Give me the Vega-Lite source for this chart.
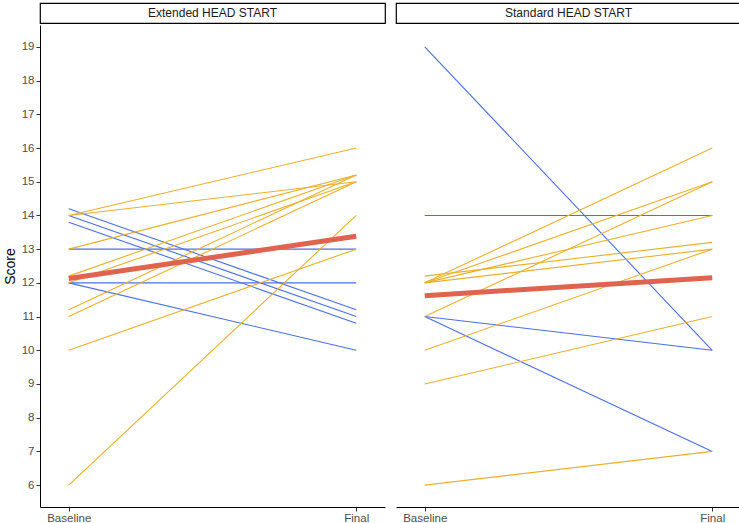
{
  "$schema": "https://vega.github.io/schema/vega-lite/v6.json",
  "background": "white",
  "padding": {"left": 3, "top": 2, "right": 0, "bottom": 0},
  "config": {
    "view": {"stroke": null},
    "font": "Liberation Sans",
    "axis": {
      "grid": false,
      "domainColor": "black",
      "domainWidth": 1,
      "tickColor": "#333333",
      "tickSize": 4,
      "labelColor": "#4d4d4d",
      "labelFont": "Liberation Sans",
      "labelFontSize": 11.5,
      "labelPadding": 2,
      "labelOverlap": false,
      "titleFont": "Liberation Sans",
      "titleFontSize": 14,
      "titleFontWeight": "normal",
      "titleColor": "black"
    }
  },
  "data": {
    "values": [
      {"g": "Extended HEAD START", "id": "E01", "k": "down", "t": "Baseline", "s": 14.2},
      {"g": "Extended HEAD START", "id": "E01", "k": "down", "t": "Final", "s": 11.2},
      {"g": "Extended HEAD START", "id": "E02", "k": "down", "t": "Baseline", "s": 14.0},
      {"g": "Extended HEAD START", "id": "E02", "k": "down", "t": "Final", "s": 11.0},
      {"g": "Extended HEAD START", "id": "E03", "k": "down", "t": "Baseline", "s": 13.8},
      {"g": "Extended HEAD START", "id": "E03", "k": "down", "t": "Final", "s": 10.8},
      {"g": "Extended HEAD START", "id": "E04", "k": "down", "t": "Baseline", "s": 13},
      {"g": "Extended HEAD START", "id": "E04", "k": "down", "t": "Final", "s": 13},
      {"g": "Extended HEAD START", "id": "E05", "k": "down", "t": "Baseline", "s": 12},
      {"g": "Extended HEAD START", "id": "E05", "k": "down", "t": "Final", "s": 12},
      {"g": "Extended HEAD START", "id": "E06", "k": "down", "t": "Baseline", "s": 12},
      {"g": "Extended HEAD START", "id": "E06", "k": "down", "t": "Final", "s": 10},
      {"g": "Extended HEAD START", "id": "E07", "k": "up", "t": "Baseline", "s": 14},
      {"g": "Extended HEAD START", "id": "E07", "k": "up", "t": "Final", "s": 16},
      {"g": "Extended HEAD START", "id": "E08", "k": "up", "t": "Baseline", "s": 14},
      {"g": "Extended HEAD START", "id": "E08", "k": "up", "t": "Final", "s": 15},
      {"g": "Extended HEAD START", "id": "E09", "k": "up", "t": "Baseline", "s": 13},
      {"g": "Extended HEAD START", "id": "E09", "k": "up", "t": "Final", "s": 15.2},
      {"g": "Extended HEAD START", "id": "E10", "k": "up", "t": "Baseline", "s": 12.2},
      {"g": "Extended HEAD START", "id": "E10", "k": "up", "t": "Final", "s": 15.2},
      {"g": "Extended HEAD START", "id": "E11", "k": "up", "t": "Baseline", "s": 12},
      {"g": "Extended HEAD START", "id": "E11", "k": "up", "t": "Final", "s": 15},
      {"g": "Extended HEAD START", "id": "E12", "k": "up", "t": "Baseline", "s": 11.2},
      {"g": "Extended HEAD START", "id": "E12", "k": "up", "t": "Final", "s": 15.2},
      {"g": "Extended HEAD START", "id": "E13", "k": "up", "t": "Baseline", "s": 11},
      {"g": "Extended HEAD START", "id": "E13", "k": "up", "t": "Final", "s": 15},
      {"g": "Extended HEAD START", "id": "E14", "k": "up", "t": "Baseline", "s": 10},
      {"g": "Extended HEAD START", "id": "E14", "k": "up", "t": "Final", "s": 13},
      {"g": "Extended HEAD START", "id": "E15", "k": "up", "t": "Baseline", "s": 6},
      {"g": "Extended HEAD START", "id": "E15", "k": "up", "t": "Final", "s": 14},
      {"g": "Extended HEAD START", "id": "EM", "k": "mean", "t": "Baseline", "s": 12.13},
      {"g": "Extended HEAD START", "id": "EM", "k": "mean", "t": "Final", "s": 13.38},
      {"g": "Standard HEAD START", "id": "S01", "k": "down", "t": "Baseline", "s": 19},
      {"g": "Standard HEAD START", "id": "S01", "k": "down", "t": "Final", "s": 10},
      {"g": "Standard HEAD START", "id": "S02", "k": "down", "t": "Baseline", "s": 14},
      {"g": "Standard HEAD START", "id": "S02", "k": "down", "t": "Final", "s": 14},
      {"g": "Standard HEAD START", "id": "S03", "k": "down", "t": "Baseline", "s": 11},
      {"g": "Standard HEAD START", "id": "S03", "k": "down", "t": "Final", "s": 10},
      {"g": "Standard HEAD START", "id": "S04", "k": "down", "t": "Baseline", "s": 11},
      {"g": "Standard HEAD START", "id": "S04", "k": "down", "t": "Final", "s": 7},
      {"g": "Standard HEAD START", "id": "S05", "k": "up", "t": "Baseline", "s": 12},
      {"g": "Standard HEAD START", "id": "S05", "k": "up", "t": "Final", "s": 16},
      {"g": "Standard HEAD START", "id": "S06", "k": "up", "t": "Baseline", "s": 12},
      {"g": "Standard HEAD START", "id": "S06", "k": "up", "t": "Final", "s": 15},
      {"g": "Standard HEAD START", "id": "S07", "k": "up", "t": "Baseline", "s": 12.2},
      {"g": "Standard HEAD START", "id": "S07", "k": "up", "t": "Final", "s": 13.2},
      {"g": "Standard HEAD START", "id": "S08", "k": "up", "t": "Baseline", "s": 12},
      {"g": "Standard HEAD START", "id": "S08", "k": "up", "t": "Final", "s": 13},
      {"g": "Standard HEAD START", "id": "S09", "k": "up", "t": "Baseline", "s": 12},
      {"g": "Standard HEAD START", "id": "S09", "k": "up", "t": "Final", "s": 14},
      {"g": "Standard HEAD START", "id": "S10", "k": "up", "t": "Baseline", "s": 11},
      {"g": "Standard HEAD START", "id": "S10", "k": "up", "t": "Final", "s": 15},
      {"g": "Standard HEAD START", "id": "S11", "k": "up", "t": "Baseline", "s": 10},
      {"g": "Standard HEAD START", "id": "S11", "k": "up", "t": "Final", "s": 13},
      {"g": "Standard HEAD START", "id": "S12", "k": "up", "t": "Baseline", "s": 9},
      {"g": "Standard HEAD START", "id": "S12", "k": "up", "t": "Final", "s": 11},
      {"g": "Standard HEAD START", "id": "S13", "k": "up", "t": "Baseline", "s": 6},
      {"g": "Standard HEAD START", "id": "S13", "k": "up", "t": "Final", "s": 7},
      {"g": "Standard HEAD START", "id": "SM", "k": "mean", "t": "Baseline", "s": 11.62},
      {"g": "Standard HEAD START", "id": "SM", "k": "mean", "t": "Final", "s": 12.15}
    ]
  },
  "spacing": 9,
  "hconcat": [
    {
      "spacing": 1,
      "vconcat": [
        {
          "width": 345,
          "height": 20,
          "data": {"values": [{"label": "Extended HEAD START"}]},
          "view": {"stroke": "black", "strokeWidth": 1.2, "fill": "white"},
          "mark": {"type": "text", "font": "Liberation Sans", "fontSize": 12, "color": "#1a1a1a", "baseline": "middle", "align": "center"},
          "encoding": {"text": {"field": "label"}}
        },
        {
          "width": 345,
          "height": 482,
          "transform": [{"filter": "datum.g === 'Extended HEAD START'"}],
          "layer": [
            {
              "transform": [{"filter": "datum.k !== 'mean'"}],
              "mark": {"type": "line", "strokeWidth": 1.1},
              "encoding": {
                "x": {"field": "t", "type": "nominal", "scale": {"type": "point", "domain": ["Baseline", "Final"], "padding": 0.1}, "axis": {"title": null, "labelAngle": 0, "labelPadding": 1}},
                "y": {"field": "s", "type": "quantitative", "scale": {"domain": [5.35, 19.65], "nice": false, "zero": false}, "axis": {"title": "Score", "values": [6, 7, 8, 9, 10, 11, 12, 13, 14, 15, 16, 17, 18, 19], "tickCount": 30, "format": "d", "labelOverlap": false, "titlePadding": 4}},
                "detail": {"field": "id"},
                "color": {"field": "k", "type": "nominal", "scale": {"domain": ["down", "up"], "range": ["#4a6fe3", "#eab02a"]}, "legend": null}
              }
            },
            {
              "transform": [{"filter": "datum.k === 'mean'"}],
              "mark": {"type": "line", "strokeWidth": 5, "color": "#e0634f"},
              "encoding": {
                "x": {"field": "t", "type": "nominal"},
                "y": {"field": "s", "type": "quantitative"}
              }
            }
          ]
        }
      ]
    },
    {
      "spacing": 1,
      "vconcat": [
        {
          "width": 345,
          "height": 20,
          "data": {"values": [{"label": "Standard HEAD START"}]},
          "view": {"stroke": "black", "strokeWidth": 1.2, "fill": "white"},
          "mark": {"type": "text", "font": "Liberation Sans", "fontSize": 12, "color": "#1a1a1a", "baseline": "middle", "align": "center"},
          "encoding": {"text": {"field": "label"}}
        },
        {
          "width": 345,
          "height": 482,
          "transform": [{"filter": "datum.g === 'Standard HEAD START'"}],
          "layer": [
            {
              "transform": [{"filter": "datum.k !== 'mean'"}],
              "mark": {"type": "line", "strokeWidth": 1.1},
              "encoding": {
                "x": {"field": "t", "type": "nominal", "scale": {"type": "point", "domain": ["Baseline", "Final"], "padding": 0.1}, "axis": {"title": null, "labelAngle": 0, "labelPadding": 1}},
                "y": {"field": "s", "type": "quantitative", "scale": {"domain": [5.35, 19.65], "nice": false, "zero": false}, "axis": null},
                "detail": {"field": "id"},
                "color": {"field": "k", "type": "nominal", "scale": {"domain": ["down", "up"], "range": ["#4a6fe3", "#eab02a"]}, "legend": null}
              }
            },
            {
              "transform": [{"filter": "datum.k === 'mean'"}],
              "mark": {"type": "line", "strokeWidth": 5, "color": "#e0634f"},
              "encoding": {
                "x": {"field": "t", "type": "nominal"},
                "y": {"field": "s", "type": "quantitative"}
              }
            }
          ]
        }
      ]
    }
  ]
}
